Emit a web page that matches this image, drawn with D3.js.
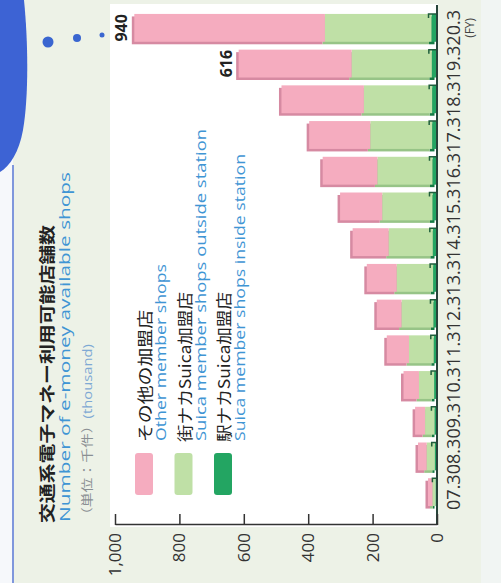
<!DOCTYPE html>
<meta charset="utf-8">
<style>
body { margin: 0; background: #edf2e7; }
svg { display: block; }
.jp { font-family: "Noto Sans CJK JP", sans-serif; }
.en { font-family: "Open Sans", "Noto Sans", sans-serif; }
</style>
<svg width="501" height="583"></svg>
<script src="https://cdn.jsdelivr.net/npm/d3@7"></script>
<script>

// fiscal years (end of March)
var years = ["07.3","08.3","09.3","10.3","11.3","12.3","13.3","14.3","15.3","16.3","17.3","18.3","19.3","20.3"];

// thousand shops
var insideStation  = [5, 7, 8, 9, 10, 11, 12, 13, 14, 14, 15, 15, 16, 17];
var outsideStation = [9, 25, 29, 47, 77, 99, 113, 137, 156, 171, 192, 212, 249, 331];
var otherShops     = [14, 27, 31, 48, 69, 77, 93, 112, 131, 170, 190, 256, 351, 592];

var valueTicks = [0, 200, 400, 600, 800, 1000];
var labelledYears = ["19.3", "20.3"];

var seriesKeys = ["inside", "outside", "other"];
var legendKeys = ["other", "outside", "inside"];
var legendJp = ["その他の加盟店", "街ナカSuica加盟店", "駅ナカSuica加盟店"];
var legendEn = ["Other member shops", "Suica member shops outside station", "Suica member shops inside station"];

var colors = {inside: "#23a562", outside: "#bfe0a6", other: "#f5acbf"};
var shades = {inside: "#147a43", outside: "#97c487", other: "#d68aa2"};

// the source picture is stretched along the category direction, so texts get fixed lengths
var jpLen = [132, 150, 150];
var enLen = [177, 312, 287];

var data = years.map(function(y, i) {
  return {year: y, inside: insideStation[i], outside: outsideStation[i], other: otherShops[i],
          total: insideStation[i] + outsideStation[i] + otherShops[i]};
});

var svg = d3.select("svg");

// page decoration
svg.append("rect").attr("x", 0).attr("y", 0).attr("width", 13).attr("height", 583).attr("fill", "#f6f8fb");
svg.append("rect").attr("x", 481).attr("y", 0).attr("width", 20).attr("height", 583).attr("fill", "#f1f5f3");
svg.append("rect").attr("x", 110).attr("y", 4).attr("width", 328).attr("height", 523).attr("fill", "#fff");
svg.append("path")
    .attr("d", "M0,0 L24,0 C28,40 29,95 23,130 C19,152 10,166 0,172 Z")
    .attr("fill", "#3d63d4");
svg.append("line").attr("x1", 13).attr("x2", 13).attr("y1", 165).attr("y2", 583)
    .attr("stroke", "#7f97dc").attr("stroke-width", 2);
[[48, 42, 5.5], [77, 38, 4], [102, 35, 2.5]].forEach(function(c) {
  svg.append("circle").attr("cx", c[0]).attr("cy", c[1]).attr("r", c[2]).attr("fill", "#3a66d0");
});

// the chart is drawn upright and turned a quarter to the left
var g = svg.append("g").attr("transform", "translate(0,583) rotate(-90)");

var x = d3.scaleBand().domain(years).range([73, 573]).paddingInner(0.22).paddingOuter(0.11);
var y = d3.scaleLinear().domain([0, 1000]).range([437, 115]);

var stack = d3.stack().keys(seriesKeys)(data);

// shadow first, then faces
var shadow = g.append("g");
var faces = g.append("g");
stack.forEach(function(layer) {
  var k = layer.key;
  shadow.selectAll(null).data(layer).enter().append("rect")
      .attr("x", function(d) { return x(d.data.year) - 2.5; })
      .attr("y", function(d) { return y(d[1]) - 2.5; })
      .attr("width", x.bandwidth())
      .attr("height", function(d) { return y(d[0]) - y(d[1]); })
      .attr("fill", shades[k]);
  faces.selectAll(null).data(layer).enter().append("rect")
      .attr("x", function(d) { return x(d.data.year); })
      .attr("y", function(d) { return y(d[1]); })
      .attr("width", x.bandwidth())
      .attr("height", function(d) { return y(d[0]) - y(d[1]); })
      .attr("fill", colors[k]);
});

// small hook at the end of each dark strip
g.selectAll(".hook").data(data).enter().append("path")
    .attr("class", "hook")
    .attr("d", function(d) {
      var xx = x(d.year) + x.bandwidth();
      return "M" + xx + "," + y(0) + "V" + (y(d.inside) - 3) + "h-4";
    })
    .attr("fill", "none").attr("stroke", "#1f5e3c").attr("stroke-width", 1.5);

// category axis
var xAxis = g.append("g")
    .attr("transform", "translate(0," + y(0) + ")")
    .call(d3.axisBottom(x).tickSize(0).tickPadding(10));
xAxis.select(".domain").attr("d", "M58,0H578").attr("stroke", "#27443a").attr("stroke-width", 2);
xAxis.selectAll("text").attr("class", "en").style("font-size", "18px").attr("fill", "#333");

g.append("text").attr("class", "en")
    .attr("x", x("20.3") + x.bandwidth() / 2).attr("y", 474)
    .attr("text-anchor", "middle").style("font-size", "12px").attr("fill", "#444")
    .text("(FY)");

// value axis
var yAxis = g.append("g")
    .attr("transform", "translate(58,0)")
    .call(d3.axisLeft(y).tickValues(valueTicks).tickFormat(d3.format(",")).tickSizeInner(-11).tickSizeOuter(0).tickPadding(8));
yAxis.select(".domain").attr("stroke", "#333").attr("stroke-width", 1.5);
yAxis.selectAll(".tick line").attr("stroke", "#333").attr("stroke-width", 1.5);
yAxis.selectAll("text").attr("class", "en").style("font-size", "17px").attr("fill", "#333");

// totals above the last two bars
g.selectAll(".total").data(data.filter(function(d) { return labelledYears.indexOf(d.year) >= 0; }))
  .enter().append("text")
    .attr("class", "total en")
    .attr("x", function(d) { return x(d.year) + x.bandwidth() / 2; })
    .attr("y", function(d) { return y(d.total) - 7; })
    .attr("text-anchor", "middle")
    .style("font-size", "16px").style("font-weight", "bold").attr("fill", "#222")
    .text(function(d) { return d.total; });

// titles
g.append("text").attr("class", "jp")
    .attr("x", 60).attr("y", 53)
    .attr("textLength", 298).attr("lengthAdjust", "spacingAndGlyphs")
    .style("font-size", "16px").style("font-weight", "bold")
    .attr("fill", "#222")
    .text("交通系電子マネー利用可能店舗数");
g.append("text").attr("class", "en")
    .attr("x", 61).attr("y", 70)
    .attr("textLength", 350).attr("lengthAdjust", "spacingAndGlyphs")
    .style("font-size", "15px").attr("fill", "#3f95d4")
    .text("Number of e-money available shops");
var unit = g.append("text").attr("x", 61).attr("y", 92).style("font-size", "12px")
    .attr("textLength", 178).attr("lengthAdjust", "spacingAndGlyphs");
unit.append("tspan").attr("class", "jp").attr("fill", "#8a8f93").text("（単位：千件）");
unit.append("tspan").attr("class", "en").attr("fill", "#7fa9d4").text("(thousand)");

// legend
var legend = g.selectAll(".legend").data(legendKeys).enter().append("g")
    .attr("class", "legend")
    .attr("transform", function(d, i) { return "translate(0," + (i * 39.5) + ")"; });
legend.append("rect")
    .attr("x", 88).attr("y", 135).attr("width", 42).attr("height", 18).attr("rx", 3)
    .attr("fill", function(d) { return colors[d]; });
legend.append("text").attr("class", "jp")
    .attr("x", 141).attr("y", 151)
    .attr("textLength", function(d, i) { return jpLen[i]; }).attr("lengthAdjust", "spacingAndGlyphs")
    .style("font-size", "16px").attr("fill", "#222")
    .text(function(d, i) { return legendJp[i]; });
legend.append("text").attr("class", "en")
    .attr("x", 142).attr("y", 166)
    .attr("textLength", function(d, i) { return enLen[i]; }).attr("lengthAdjust", "spacingAndGlyphs")
    .style("font-size", "15px").attr("fill", "#3f95d4")
    .text(function(d, i) { return legendEn[i]; });

</script>
